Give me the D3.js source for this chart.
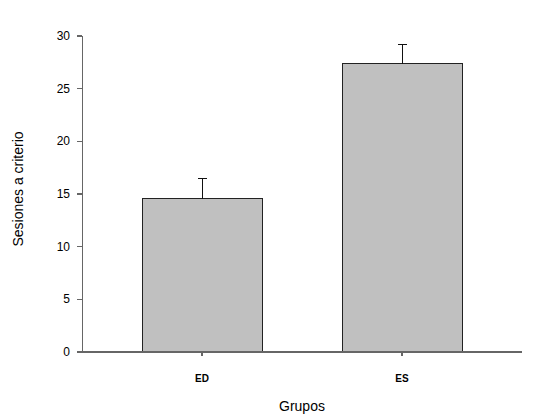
<!DOCTYPE html>
<html lang="es">
<meta charset="utf-8"/>
<head>
<script src="https://d3js.org/d3.v7.min.js"></script>
</head>
<style>
  body { margin: 0; background: #fff; }
  .axis text { font: 12px Arial, "Liberation Sans", sans-serif; fill: #000; }
  .axis path, .axis line { stroke: #666; stroke-width: 1.2px; shape-rendering: crispEdges; }
  .bar { fill: #c0c0c0; stroke: #222; stroke-width: 1px; shape-rendering: crispEdges; }
  .err { stroke: #111; stroke-width: 1px; shape-rendering: crispEdges; }
</style>
<body>
<script>
// datos
var groups = ["ED", "ES"];
var means = [14.5, 27.3];
var errors = [1.9, 1.85];
var yTicks = [0, 5, 10, 15, 20, 25, 30];

var width = 544, height = 420;

var svg = d3.select("body").append("svg")
    .attr("width", width)
    .attr("height", height);

var y = d3.scaleLinear()
    .domain([0, 30])
    .range([351.5, 35.5]);

var x = d3.scaleBand()
    .domain(groups)
    .range([102, 502])
    .paddingInner(0.4)
    .paddingOuter(0.2);

// bars
svg.selectAll(".bar")
    .data(means).enter()
    .append("rect")
    .attr("class", "bar")
    .attr("x", function(d, i) { return x(groups[i]) + 0.5; })
    .attr("width", x.bandwidth())
    .attr("y", function(d) { return y(d); })
    .attr("height", function(d) { return y(0) - y(d); });

// error bars (only upwards)
var cx = function(i) { return x(groups[i]) + x.bandwidth() / 2 + 0.5; };
svg.selectAll(".errv")
    .data(means).enter()
    .append("line")
    .attr("class", "err")
    .attr("x1", function(d, i) { return cx(i); })
    .attr("x2", function(d, i) { return cx(i); })
    .attr("y1", function(d) { return y(d); })
    .attr("y2", function(d, i) { return y(d + errors[i]); });
svg.selectAll(".errc")
    .data(means).enter()
    .append("line")
    .attr("class", "err")
    .attr("x1", function(d, i) { return cx(i) - 4.5; })
    .attr("x2", function(d, i) { return cx(i) + 4.5; })
    .attr("y1", function(d, i) { return y(d + errors[i]); })
    .attr("y2", function(d, i) { return y(d + errors[i]); });

// y axis
svg.append("g")
    .attr("class", "axis")
    .attr("transform", "translate(82,0)")
    .call(d3.axisLeft(y).tickValues(yTicks).tickSize(5).tickSizeOuter(0).tickPadding(7));

// x axis
var xg = svg.append("g")
    .attr("class", "axis")
    .attr("transform", "translate(0,352)");
xg.append("line")
    .attr("x1", 80).attr("x2", 522)
    .attr("y1", 0).attr("y2", 0);
xg.selectAll(".tick")
    .data(groups).enter()
    .append("line")
    .attr("x1", function(d) { return x(d) + x.bandwidth() / 2; })
    .attr("x2", function(d) { return x(d) + x.bandwidth() / 2; })
    .attr("y1", 0).attr("y2", 4);
xg.selectAll(".lbl")
    .data(groups).enter()
    .append("text")
    .attr("x", function(d) { return x(d) + x.bandwidth() / 2; })
    .attr("y", 30)
    .attr("text-anchor", "middle")
    .style("font-size", "10px")
    .style("font-weight", "bold")
    .text(function(d) { return d; });

// titles
svg.append("text")
    .attr("x", 302)
    .attr("y", 411)
    .attr("text-anchor", "middle")
    .style("font", "14px Arial, 'Liberation Sans', sans-serif")
    .text("Grupos");

svg.append("text")
    .attr("transform", "translate(23,189) rotate(-90)")
    .attr("text-anchor", "middle")
    .style("font", "14px Arial, 'Liberation Sans', sans-serif")
    .text("Sesiones a criterio");
</script>
</body>
</html>
